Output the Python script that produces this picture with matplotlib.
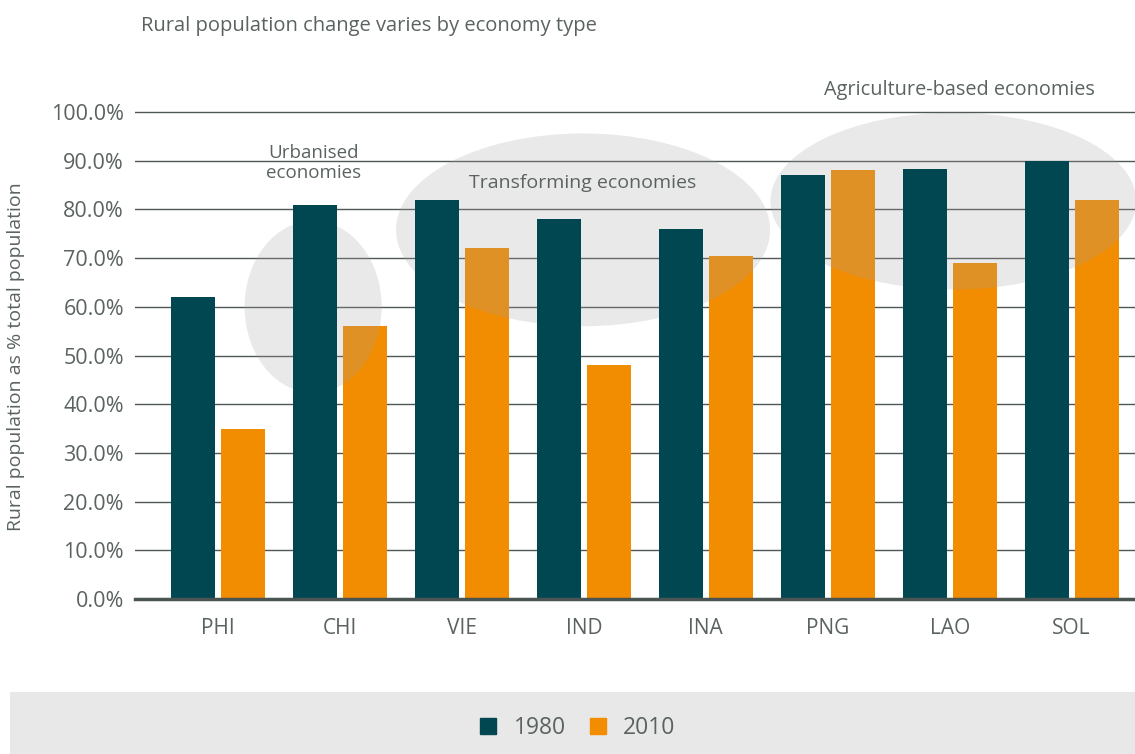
import matplotlib
matplotlib.use("Agg")
import matplotlib.pyplot as plt
from matplotlib.patches import Ellipse, Rectangle
from matplotlib.lines import Line2D
import numpy as np

plt.rcParams['font.family'] = ['Open Sans', 'DejaVu Sans']

categories = ["PHI", "CHI", "VIE", "IND", "INA", "PNG", "LAO", "SOL"]
values_1980 = [62.0, 81.0, 82.0, 78.0, 76.0, 87.0, 88.3, 90.0]
values_2010 = [35.0, 56.0, 72.0, 48.0, 70.5, 88.0, 69.0, 82.0]
series_labels = ["1980", "2010"]
yticks = [0, 10, 20, 30, 40, 50, 60, 70, 80, 90, 100]
groups = [
    ("Urbanised\neconomies", 0.78, 60.0, 1.124, 35.3),
    ("Transforming economies", 2.994, 75.8, 3.068, 39.6),
    ("Agriculture-based economies", 6.03, 81.7, 3.0, 36.3),
]

TEAL = "#004752"
ORANGE = "#F28C00"
TXT = "#5A6361"
GRID = "#4F5856"

W, H = 1135, 754
fig = plt.figure(figsize=(W / 100, H / 100), dpi=100)

ylim_top = 102
px_per = 4.87
top_px = 599 - ylim_top * px_per
ax = fig.add_axes([135 / W, 1 - 599 / H, 1 - 135 / W, (599 - top_px) / H])

x = np.arange(len(categories))
bw = 0.361
off = 0.205
ax.bar(x - off, values_1980, bw, color=TEAL, zorder=4, label=series_labels[0])
ax.bar(x + off, values_2010, bw, color=ORANGE, zorder=2, label=series_labels[1])

for name, cx, cy, w, h in groups:
    e = Ellipse((cx, cy), w, h, facecolor="#A4A4A4", alpha=0.23, edgecolor="none",
                zorder=3, clip_on=False)
    ax.add_patch(e)

ax.set_xlim(-0.681, 7.52)
ax.set_ylim(0, ylim_top)
ax.set_yticks(yticks)
ax.set_yticklabels([f"{v:.1f}%" for v in yticks])
ax.set_xticks(x)
ax.set_xticklabels(categories)
ax.tick_params(axis="y", length=0, labelsize=15.5, colors=TXT, pad=8)
ax.tick_params(axis="x", length=0, labelsize=15, colors=TXT, pad=14)
for s in ["top", "right", "left"]:
    ax.spines[s].set_visible(False)
ax.spines["bottom"].set_color("#4A5452")
ax.spines["bottom"].set_linewidth(2.5)
ax.spines["bottom"].set_zorder(5)
ax.yaxis.grid(True, color=GRID, linewidth=1.0, zorder=1)
ax.set_axisbelow(True)

fig.text(16 / W, 1 - 357 / H, "Rural population as % total population", rotation=90,
         ha="center", va="center", fontsize=14, color=TXT)

# annotations
ax.text(0.785, 89.5, "Urbanised\neconomies", ha="center", va="center", fontsize=13.5,
        color=TXT, linespacing=1.15, zorder=6)
ax.text(2.99, 85.5, "Transforming economies", ha="center", va="center", fontsize=14,
        color=TXT, zorder=6)
ax.text(6.08, 104.5, "Agriculture-based economies", ha="center", va="center", fontsize=14.3,
        color=TXT, zorder=6, clip_on=False)

fig.text(141 / W, 1 - 26 / H, "Rural population change varies by economy type",
         ha="left", va="center", fontsize=14.5, color=TXT)

# legend band
fig.patches.append(Rectangle((10 / W, 0), 1 - 10 / W, (754 - 692) / H,
                             transform=fig.transFigure, facecolor="#E8E8E8",
                             edgecolor="none", zorder=0))
handles = [Line2D([], [], marker="s", linestyle="none", markersize=11.5, color=TEAL),
           Line2D([], [], marker="s", linestyle="none", markersize=11.5, color=ORANGE)]
leg = fig.legend(handles, series_labels, loc="center", bbox_to_anchor=(576 / W, 1 - 728 / H),
                 ncol=2, frameon=False, fontsize=16.5, handletextpad=0.6, columnspacing=0.9,
                 handlelength=1.0)
for t in leg.get_texts():
    t.set_color(TXT)

fig.savefig("out.png", dpi=100)
